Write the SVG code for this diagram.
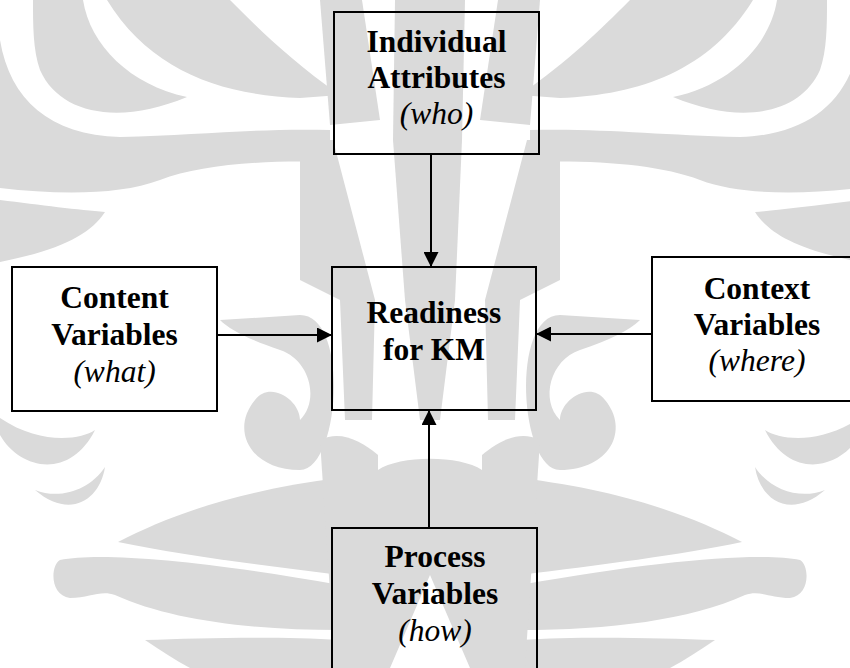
<svg xmlns="http://www.w3.org/2000/svg" width="850" height="668" viewBox="0 0 850 668">
  <defs>
    <style>
      .box { fill: none; stroke: #000; stroke-width: 2; }
      .conn { stroke: #000; stroke-width: 2; fill: none; }
      .b { font-family: "Liberation Serif", "Times New Roman", serif; font-weight: bold; font-size: 31.5px; fill: #000; text-anchor: middle; }
      .i { font-family: "Liberation Serif", "Times New Roman", serif; font-style: italic; font-size: 31.5px; fill: #000; text-anchor: middle; }
      .wm { fill: #dadada; }
    </style>
    <marker id="ah" markerUnits="userSpaceOnUse" markerWidth="15" markerHeight="15" refX="15" refY="7.5" orient="auto">
      <path d="M0,0 L15,7.5 L0,15 Z" fill="#000"/>
    </marker>
    <g id="wmhalf">
      <path d="M33,0 L83,0 C90,45 130,85 187,97 C120,125 60,115 40,70 C33,50 33,25 33,0 Z"/>
      <path d="M0,40 C10,100 50,135 120,137 C200,135 260,128 330,130 L330,162 C260,160 200,165 160,180 C120,195 60,195 0,188 Z"/>
      <path d="M107,0 L230,0 C260,30 290,60 340,95 L300,98 C220,95 150,70 107,0 Z"/>
      <path d="M0,200 C40,205 80,210 105,212 C90,235 60,250 0,262 Z"/>
      <path d="M0,435 C20,470 70,480 95,430 C80,440 40,445 0,418 Z"/>
      <path d="M105,467 C100,500 70,520 35,490 C60,500 90,490 105,467 Z"/>
      <path d="M60,560 C100,552 200,560 340,585 L340,630 C250,630 170,620 115,595 C100,590 90,598 70,598 C50,596 50,566 60,560 Z"/>
      <path d="M118,542 C170,515 240,490 340,478 L340,575 C260,565 180,555 118,542 Z"/>
      <path d="M145,640 C200,638 280,636 340,640 L340,668 L190,668 C175,660 160,650 145,640 Z"/>
      <path d="M300,315 C350,315 340,470 300,470 C250,470 230,430 255,400 C270,380 300,400 300,420 C320,400 310,360 280,350 C250,340 230,330 220,320 Z"/>
      <path d="M300,140 L333,140 L375,300 L372,420 L345,420 L340,300 L300,280 Z"/>
      <path d="M320,0 L362,0 L380,120 L330,125 Z"/>
      <path d="M320,440 C340,430 360,440 378,455 L378,668 L335,668 Z"/>
    </g>
  </defs>
  <rect width="850" height="668" fill="#fff"/>
  <g id="watermark" class="wm">
    <use href="#wmhalf"/>
    <use href="#wmhalf" transform="translate(860,0) scale(-1,1)"/>
    <path d="M395,0 L465,0 L462,140 L455,300 L440,420 L420,420 L405,300 L393,140 Z"/>
    <path d="M378,470 C400,455 460,455 482,470 L482,668 L470,668 L430,575 L390,668 L378,668 Z"/>
  </g>

  <g id="connectors">
    <line class="conn" x1="431" y1="154" x2="431" y2="267" marker-end="url(#ah)"/>
    <line class="conn" x1="217" y1="335" x2="332" y2="335" marker-end="url(#ah)"/>
    <line class="conn" x1="652" y1="334" x2="536" y2="334" marker-end="url(#ah)"/>
    <line class="conn" x1="429" y1="528" x2="429" y2="410" marker-end="url(#ah)"/>
  </g>

  <g id="individual">
    <rect class="box" x="334" y="12" width="205" height="142"/>
    <text class="b" x="436.5" y="52">Individual</text>
    <text class="b" x="436.5" y="88">Attributes</text>
    <text class="i" x="436.5" y="124">(who)</text>
  </g>
  <g id="content">
    <rect class="box" x="12" y="267" width="205" height="144"/>
    <text class="b" x="114.5" y="308">Content</text>
    <text class="b" x="114.5" y="345">Variables</text>
    <text class="i" x="114.5" y="382">(what)</text>
  </g>
  <g id="readiness">
    <rect class="box" x="332" y="267" width="204" height="143"/>
    <text class="b" x="434" y="323">Readiness</text>
    <text class="b" x="434" y="360">for KM</text>
  </g>
  <g id="context">
    <rect class="box" x="652" y="257" width="210" height="144"/>
    <text class="b" x="757" y="299">Context</text>
    <text class="b" x="757" y="335">Variables</text>
    <text class="i" x="757" y="371">(where)</text>
  </g>
  <g id="process">
    <rect class="box" x="332" y="528" width="205" height="150"/>
    <text class="b" x="435" y="567">Process</text>
    <text class="b" x="435" y="604">Variables</text>
    <text class="i" x="435" y="641">(how)</text>
  </g>
</svg>
